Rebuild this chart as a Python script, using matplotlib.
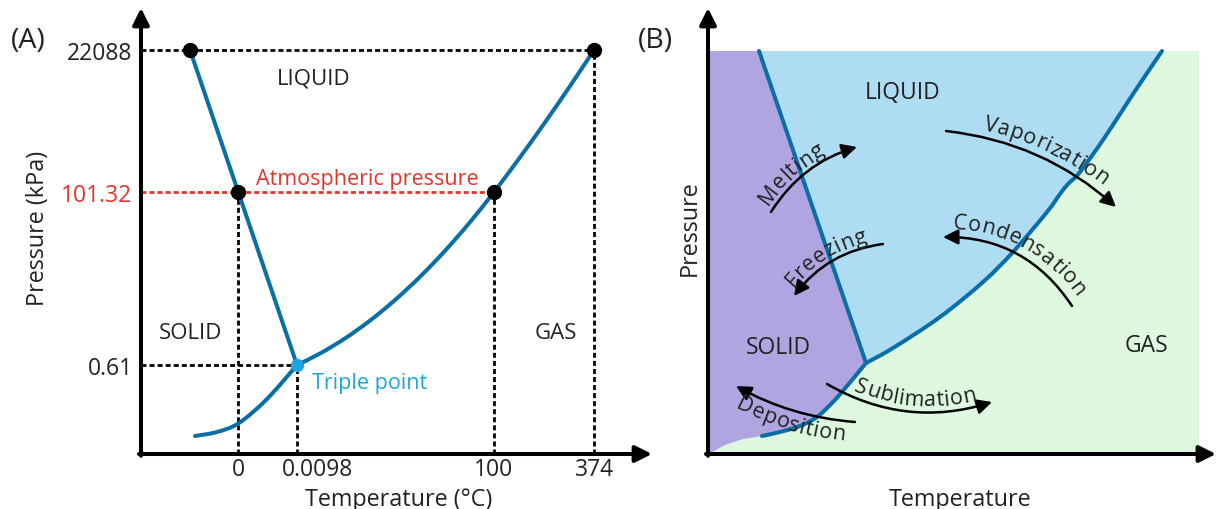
import numpy as np
import matplotlib
matplotlib.use('Agg')
import matplotlib.pyplot as plt
from matplotlib.font_manager import FontProperties
from matplotlib.patches import FancyArrowPatch, PathPatch
from matplotlib.path import Path
from matplotlib.transforms import IdentityTransform, ScaledTranslation

W, H = 1216, 510
FONT = 'Open Sans'
plt.rcParams['font.family'] = [FONT, 'DejaVu Sans']

# ---------------- Panel A data (schematic positions) ----------------
temp_ticks = [97, 156, 353, 453]
temp_labels = ['0', '0.0098', '100', '374']
pres_ticks = [89, 262, 404]
pres_labels = ['0.61', '101.32', '22088']

fusion_x = [49, 156]
fusion_y = [404, 89]
vap_x = [156, 179, 204, 229, 254, 279, 304, 329, 353, 379, 404, 429, 453]
vap_y = [89, 100.5, 115.6, 133.4, 154, 177.2, 203.2, 231.9, 262, 296.7, 331.6, 367.9, 404]
sub_x = [54, 76, 98, 126, 156]
sub_y = [18, 22, 31, 55, 89]

dot_x = [49, 453, 97, 353]
dot_y = [404, 404, 262, 262]
triple_x, triple_y = 156, 89
crit_x, crit_y = 453, 404
melt_x, boil_x, atm_y = 97, 353, 262

# ---------------- Panel B data (schematic positions) ----------------
b_top, b_right = 403, 491
b_fus_x = [51, 158]
b_fus_y = [403, 91]
b_vap_x = [158, 185, 232, 275, 305, 339, 352, 360, 372, 397, 425, 454]
b_vap_y = [91, 106, 137, 172, 202, 242, 260, 270, 282, 317, 360, 403]
b_sub_x = [158, 139, 125, 109, 92, 72, 54]
b_sub_y = [91, 68, 52, 37, 28, 22, 18]
b_edge_x = [54, 35, 17, 4, 0]
b_edge_y = [18, 15, 9, 2, 0]

proc_names = ['Melting', 'Freezing', 'Vaporization', 'Condensation', 'Sublimation', 'Deposition']
proc_tail = [(63, 242), (175, 210), (238, 323), (364, 148), (119, 70), (147, 32)]
proc_head = [(149, 307), (86, 158), (408, 247), (235, 217), (284, 52), (28, 68)]
proc_rad = [-0.19, 0.21, -0.16, 0.27, 0.22, -0.11]

# layout for labels along arcs: (baseline offset px, shift along px)
label_layout = {'Melting': (6, -14), 'Freezing': (6, -4), 'Vaporization': (8, 6),
                'Condensation': (9, 2), 'Sublimation': (7, 6), 'Deposition': (-19, 0)}

# ---------------- styles ----------------
LINE = '#0A6FA4'
PURPLE = '#B0A4E1'
BLUE = '#AEDCF2'
GREEN = '#DDF8DF'
RED = '#E3342A'
CYAN = '#1DA6DD'
TXT = '#222222'
FS_TICK = 16.5
FS_AXLAB = 16.8
FS_REG = 16.0
FS_ARC = 15.5

fig = plt.figure(figsize=(W / 100, H / 100), dpi=100)


def rect(l, t, r, b):
    return [l / W, 1 - b / H, (r - l) / W, (b - t) / H]


def ftext(x, y, s, **kw):
    kw.setdefault('ha', 'center')
    kw.setdefault('va', 'center_baseline')
    kw.setdefault('color', TXT)
    kw.setdefault('fontsize', FS_REG)
    fig.text(x / W, 1 - y / H, s, **kw)


def smooth_curve(ax, xs, ys, **kw):
    """Draw a smooth cubic curve through the given points (Catmull-Rom as Bezier)."""
    P = np.column_stack([xs, ys]).astype(float)
    n = len(P)
    verts = [P[0]]
    codes = [Path.MOVETO]
    for i in range(n - 1):
        p0 = P[i - 1] if i > 0 else P[i]
        p1, p2 = P[i], P[i + 1]
        p3 = P[i + 2] if i + 2 < n else P[i + 1]
        c1 = p1 + (p2 - p0) / 6
        c2 = p2 - (p3 - p1) / 6
        verts += [c1, c2, p2]
        codes += [Path.CURVE4] * 3
    patch = PathPatch(Path(verts, codes), fill=False, capstyle='round', joinstyle='round', **kw)
    ax.add_patch(patch)


axA = fig.add_axes(rect(141, 9, 652, 455))
axA.set_xlim(0, 511)
axA.set_ylim(0, 446)
axB = fig.add_axes(rect(708, 9, 1216, 455))
axB.set_xlim(0, 508)
axB.set_ylim(0, 446)
for ax in (axA, axB):
    for s in ax.spines.values():
        s.set_visible(False)
    ax.patch.set_alpha(0)


def axis_arrows(ax):
    kw = dict(arrowstyle='-|>,head_length=1.0,head_width=0.5', mutation_scale=10,
              lw=2.9, color='black', shrinkA=0, shrinkB=0)
    ax.annotate('', xy=(0, 1), xytext=(0, -0.004), xycoords='axes fraction',
                arrowprops=kw, annotation_clip=False, zorder=20)
    ax.annotate('', xy=(1, 0), xytext=(-0.004, 0), xycoords='axes fraction',
                arrowprops=kw, annotation_clip=False, zorder=20)


# ================= Panel A =================
dash = dict(lw=2.0, linestyle=(0, (1.8, 1.1)), zorder=2)
axA.plot([0, crit_x], [crit_y, crit_y], color='black', **dash)
axA.plot([crit_x, crit_x], [0, crit_y], color='black', **dash)
axA.plot([0, boil_x], [atm_y, atm_y], color=RED, **dash)
axA.plot([melt_x, melt_x], [0, atm_y], color='black', **dash)
axA.plot([boil_x, boil_x], [0, atm_y], color='black', **dash)
axA.plot([0, triple_x], [triple_y, triple_y], color='black', **dash)
axA.plot([triple_x, triple_x], [0, triple_y], color='black', **dash)

cur = dict(edgecolor=LINE, lw=2.9, zorder=3)
axA.plot(fusion_x, fusion_y, color=LINE, lw=2.9, solid_capstyle='round', zorder=3)
smooth_curve(axA, vap_x, vap_y, **cur)
smooth_curve(axA, sub_x, sub_y, **cur)
axA.plot(dot_x, dot_y, 'o', color='black', ms=10, zorder=5)
axA.plot([triple_x], [triple_y], 'o', color=CYAN, ms=8.5, zorder=5)

axA.set_yticks(pres_ticks, pres_labels)
axA.set_xticks(temp_ticks, temp_labels)
axA.tick_params(axis='y', length=0, pad=6, labelsize=FS_TICK, labelcolor=TXT)
axA.tick_params(axis='x', length=0, pad=2, labelsize=FS_TICK, labelcolor=TXT)
axA.get_yticklabels()[pres_labels.index('101.32')].set_color(RED)
lab = axA.get_xticklabels()[temp_labels.index('0.0098')]
lab.set_horizontalalignment('left')
lab.set_transform(lab.get_transform() + ScaledTranslation(-15 / 100, 0, fig.dpi_scale_trans))
axis_arrows(axA)

ftext(28, 37, '(A)', fontsize=20.5)
ftext(38, 228, 'Pressure (kPa)', rotation=90, va='center', fontsize=FS_AXLAB)
ftext(399, 497, 'Temperature (°C)', fontsize=FS_AXLAB)
ftext(314, 77, 'LIQUID')
ftext(191, 331, 'SOLID')
ftext(556, 331, 'GAS')
ftext(367, 177, 'Atmospheric pressure', color=RED, fontsize=15.5)
ftext(370, 381, 'Triple point', color=CYAN, fontsize=15.5)

# ================= Panel B =================
axB.fill([0, b_right, b_right, 0], [0, 0, b_top, b_top], color=GREEN, lw=0, zorder=0)
solid_x = [0] + b_fus_x + b_sub_x[1:] + b_edge_x[1:]
solid_y = [b_top] + b_fus_y + b_sub_y[1:] + b_edge_y[1:]
axB.fill(solid_x, solid_y, color=PURPLE, lw=0, zorder=1)
liq_x = b_fus_x + b_vap_x[1:]
liq_y = b_fus_y + b_vap_y[1:]
axB.fill(liq_x, liq_y, color=BLUE, lw=0, zorder=1)
axB.plot(b_fus_x, b_fus_y, color=LINE, lw=2.9, solid_capstyle='round', zorder=3)
smooth_curve(axB, b_vap_x, b_vap_y, **cur)
smooth_curve(axB, b_sub_x, b_sub_y, **cur)
axB.set_xticks([])
axB.set_yticks([])
axis_arrows(axB)


def text_on_arc(ax, text, p_tail, p_head, rad, base_off, shift, size, color, track=0.0):
    rend = fig.canvas.get_renderer()
    fp = FontProperties(family=[FONT, 'DejaVu Sans'], size=size)
    P1 = np.array(ax.transData.transform(p_tail), float)
    P2 = np.array(ax.transData.transform(p_head), float)
    r = rad
    if P1[0] > P2[0]:
        P1, P2 = P2, P1
        r = -r
    M = (P1 + P2) / 2
    d = P2 - P1
    C = M + r * np.array([d[1], -d[0]])
    t = np.linspace(-0.5, 1.5, 1200)[:, None]
    B = (1 - t) ** 2 * P1 + 2 * (1 - t) * t * C + t ** 2 * P2
    T = 2 * (1 - t) * (C - P1) + 2 * t * (P2 - C)
    T = T / np.linalg.norm(T, axis=1, keepdims=True)
    N = np.column_stack([-T[:, 1], T[:, 0]])
    O = B + base_off * N
    seg = np.linalg.norm(np.diff(O, axis=0), axis=1)
    s = np.concatenate([[0], np.cumsum(seg)])
    tt = t[:, 0]
    s0 = np.interp(0, tt, s)
    s1 = np.interp(1, tt, s)
    widths = [rend.get_text_width_height_descent(ch, fp, ismath=False)[0] for ch in text]
    total = sum(widths) + track * (len(text) - 1)
    pos = s0 + (s1 - s0 - total) / 2 + shift
    ang = np.degrees(np.arctan2(T[:, 1], T[:, 0]))
    for ch, w in zip(text, widths):
        sc = pos + w / 2
        x = np.interp(sc, s, O[:, 0])
        y = np.interp(sc, s, O[:, 1])
        a = np.interp(sc, s, ang)
        fig.text(x, y, ch, transform=IdentityTransform(), fontproperties=fp, color=color,
                 rotation=a, rotation_mode='anchor', ha='center', va='baseline', zorder=6)
        pos += w + track


for name, tail, head, rad in zip(proc_names, proc_tail, proc_head, proc_rad):
    arr = FancyArrowPatch(tail, head, connectionstyle=f'arc3,rad={rad}',
                          arrowstyle='-|>,head_length=0.9,head_width=0.45', mutation_scale=10,
                          lw=1.8, color='black', shrinkA=0, shrinkB=0, zorder=5)
    axB.add_patch(arr)
    off, sh = label_layout[name]
    text_on_arc(axB, name, tail, head, rad, off, sh, FS_ARC, TXT, track=0.6)

ftext(655, 38, '(B)', fontsize=20.5)
ftext(690, 228, 'Pressure', rotation=90, va='center', fontsize=FS_AXLAB)
ftext(960, 497, 'Temperature', fontsize=FS_AXLAB)
ftext(903, 90, 'LIQUID', fontsize=16.5)
ftext(778, 345, 'SOLID', fontsize=16.5)
ftext(1146, 343, 'GAS', fontsize=16.5)

fig.savefig('out.png', dpi=100)
